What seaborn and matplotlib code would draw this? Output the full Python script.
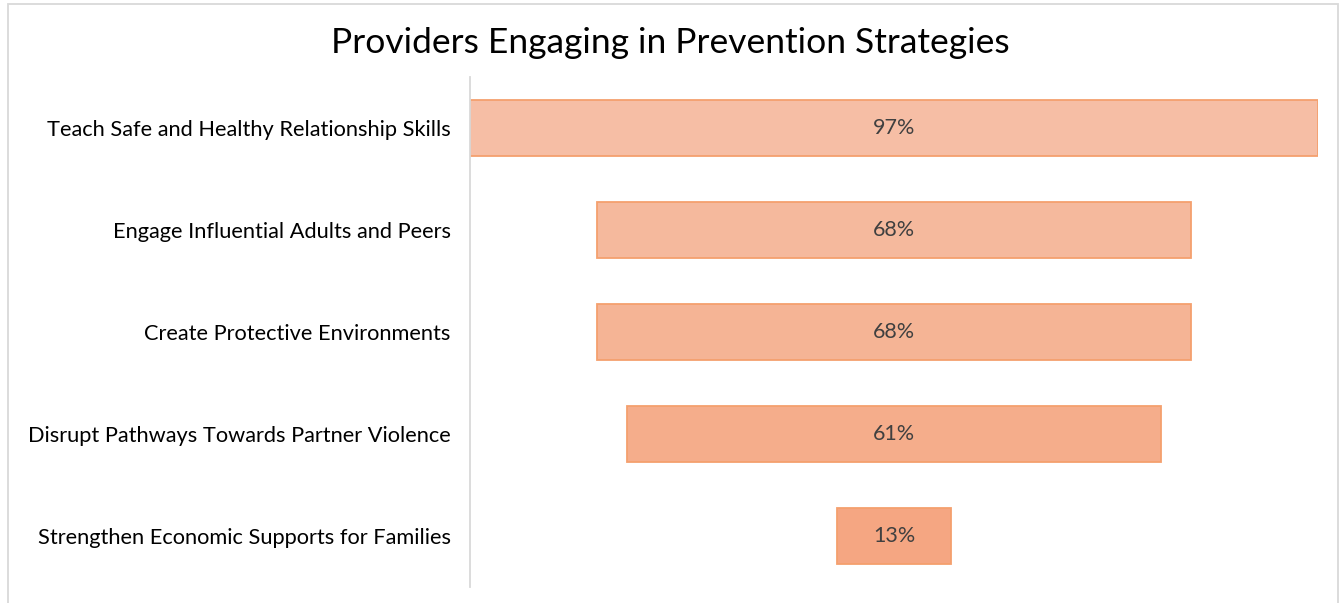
import matplotlib.pyplot as plt
import matplotlib.patches as mpatches
import pandas as pd
import seaborn as sns

strategies = ['Teach Safe and Healthy Relationship Skills',
              'Engage Influential Adults and Peers',
              'Create Protective Environments',
              'Disrupt Pathways Towards Partner Violence',
              'Strengthen Economic Supports for Families']
percent = [97, 68, 68, 61, 13]
fills = ['#F6BEA5', '#F5B99D', '#F5B495', '#F5AD8B', '#F5A682']

sns.set_style('white')
plt.rcParams['font.family'] = ['Lato', 'DejaVu Sans']

df = pd.DataFrame({'strategy': strategies, 'pct': percent})

fig = plt.figure(figsize=(13.41, 6.03), dpi=100)
ax = fig.add_axes([0.3505, 0.0265, 0.6323, 0.8458])
sns.barplot(data=df, x='pct', y='strategy', hue='strategy', palette=fills,
            saturation=1, orient='h', width=0.54, edgecolor='#F4A06E',
            linewidth=1.3, legend=False, ax=ax)

# funnel: centre each bar on the widest one
top = max(percent)
for bar, v in zip(ax.patches, percent):
    bar.set_x((top - v) / 2)
    ax.text((top - v) / 2 + v / 2, bar.get_y() + bar.get_height() / 2, f'{v}%',
            ha='center', va='center', fontsize=15.5, color='#404040')

ax.set_xlim(0, top)
ax.set_xlabel('')
ax.set_ylabel('')
ax.set_xticks([])
ax.tick_params(axis='y', length=0, pad=14, labelsize=15.7, labelcolor='#000000')
for s in ['top', 'right', 'bottom']:
    ax.spines[s].set_visible(False)
ax.spines['left'].set_color('#D9D9D9')
ax.spines['left'].set_linewidth(1.3)

fig.text(0.5, 0.929, 'Providers Engaging in Prevention Strategies',
         ha='center', va='center', fontsize=25.5, color='#000000')

# chart area border (bottom edge runs off the image)
fig.patches.append(mpatches.Rectangle((8 / 1341, -0.05), 1330 / 1341, 1.05 - 4 / 603,
                                      transform=fig.transFigure, fill=False,
                                      edgecolor='#D9D9D9', linewidth=1.3))

fig.savefig('out.png', dpi=100)
